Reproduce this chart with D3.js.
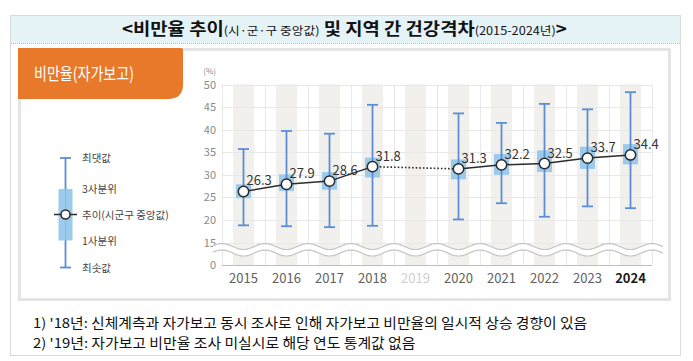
<!DOCTYPE html>
<html><head><meta charset="utf-8">
<script src="https://cdn.jsdelivr.net/npm/d3@7"></script>
<style>body{margin:0;background:#fff}svg{display:block}</style>
</head><body>
<script>
// ---- data ----
const years   = ["2015","2016","2017","2018","2019","2020","2021","2022","2023","2024"];
const medians = [26.3, 27.9, 28.6, 31.8, null, 31.3, 32.2, 32.5, 33.7, 34.4];
const q1      = [24.8, 26.4, 26.7, 29.4, null, 29.0, 30.0, 30.6, 31.3, 32.3];
const q3      = [27.9, 30.1, 30.6, 33.8, null, 33.4, 34.6, 35.4, 36.2, 36.8];
const mins    = [18.8, 18.6, 18.4, 18.7, null, 20.1, 23.7, 20.7, 23.0, 22.6];
const maxs    = [35.7, 39.7, 39.1, 45.5, null, 43.6, 41.5, 45.7, 44.5, 48.3];
const yTicks  = [15, 20, 25, 30, 35, 40, 45, 50];
const yBreakLabel = "0";
const legendLabels = ["최댓값", "3사분위", "추이(시군구 중앙값)", "1사분위", "최솟값"];
const notes = [
  "1) '18년: 신체계측과 자가보고 동시 조사로 인해 자가보고 비만율의 일시적 상승 경향이 있음",
  "2) '19년: 자가보고 비만율 조사 미실시로 해당 연도 통계값 없음"
];

const W = 693, H = 361;
const FONT = "'Noto Sans CJK KR','Noto Sans',sans-serif";
const svg = d3.select("body").append("svg").attr("width", W).attr("height", H)
  .style("font-family", FONT);

// fit a text/group horizontally into [x0, x0+w]
function fitX(sel, x0, w) {
  const bb = sel.node().getBBox();
  const s = w / bb.width;
  sel.attr("transform", `translate(${x0},0) scale(${s},1) translate(${-bb.x},0)`);
}

// ---- frame ----
svg.append("rect").attr("x", 10.5).attr("y", 15.5).attr("width", 670).attr("height", 340)
  .attr("fill", "#fff").attr("stroke", "#b5b5b5").attr("stroke-dasharray", "1,1");
svg.append("rect").attr("x", 11).attr("y", 16).attr("width", 669).attr("height", 27)
  .attr("fill", "#e5f3f7");
svg.append("line").attr("x1", 11).attr("x2", 680).attr("y1", 43.5).attr("y2", 43.5)
  .attr("stroke", "#b5b5b5").attr("stroke-dasharray", "1,1");

// title
const title = svg.append("text").attr("y", 35).attr("fill", "#111");
title.append("tspan").attr("font-size", 17).attr("font-weight", 700).text("<비만율 추이");
title.append("tspan").attr("font-size", 11.5).text("(시·군·구 중앙값)");
title.append("tspan").attr("font-size", 17).attr("font-weight", 700).text(" 및 지역 간 건강격차");
title.append("tspan").attr("font-size", 11.5).text("(2015-2024년)");
title.append("tspan").attr("font-size", 17).attr("font-weight", 700).text(">");
fitX(title, 122, 445);

// panel
svg.append("rect").attr("x", 19.5).attr("y", 49.5).attr("width", 650).attr("height", 250)
  .attr("fill", "#fff").attr("stroke", "#e4e4e4").attr("stroke-width", 3);

// orange tab
const tx0 = 18, ty0 = 48, tx1 = 183, ty1 = 99, r = 15;
svg.append("path")
  .attr("d", `M${tx0},${ty0}H${tx1 - 2}Q${tx1},${ty0} ${tx1},${ty0 + 2}V${ty1 - r}Q${tx1},${ty1} ${tx1 - r},${ty1}H${tx0}Z`)
  .attr("fill", "#e8792a");
const tabText = svg.append("text").attr("y", 80).attr("fill", "#fff").attr("font-size", 17)
  .text("비만율(자가보고)");
fitX(tabText, 34, 100);

// ---- scales ----
const x = d3.scaleBand().domain(years).range([222, 652]).paddingInner(0).paddingOuter(0);
const y = d3.scaleLinear().domain([15, 50]).range([242.5, 84.5]);
const yZero = 265;
const cx = d => x(d) + x.bandwidth() / 2;

const plot = svg.append("g");
// bands
plot.selectAll("rect.band").data(years).join("rect").attr("class", "band")
  .attr("x", d => cx(d) - 10.5).attr("width", 21)
  .attr("y", y(50)).attr("height", yZero - y(50))
  .attr("fill", "#f2f0ec");
// vertical gridlines at band boundaries
const bounds = years.map(d => x(d)).concat([x.range()[1]]);
plot.selectAll("line.vg").data(bounds).join("line").attr("class", "vg")
  .attr("x1", d => d + 0.5).attr("x2", d => d + 0.5)
  .attr("y1", y(50)).attr("y2", yZero).attr("stroke", "#e8e8e8");
// horizontal gridlines
plot.selectAll("line.hg").data(yTicks).join("line").attr("class", "hg")
  .attr("x1", 222).attr("x2", 652)
  .attr("y1", d => Math.round(y(d)) + 0.5).attr("y2", d => Math.round(y(d)) + 0.5)
  .attr("stroke", "#e8e8e8");

// y axis labels
const yAxis = d3.axisLeft(y).tickValues(yTicks).tickSize(0).tickPadding(6);
const yg = svg.append("g").attr("transform", "translate(222,0)").call(yAxis);
yg.select(".domain").remove();
yg.selectAll("text").attr("font-size", 11).attr("fill", "#8a8a8a").attr("font-family", FONT);
svg.append("text").attr("x", 216).attr("y", yZero + 4).attr("text-anchor", "end")
  .attr("font-size", 11).attr("fill", "#8a8a8a").text(yBreakLabel);
svg.append("text").attr("x", 216).attr("y", 74).attr("text-anchor", "end")
  .attr("font-size", 8).attr("fill", "#8a8a8a").text("(%)");

// baseline
svg.append("line").attr("x1", 222).attr("x2", 652).attr("y1", yZero + 0.5).attr("y2", yZero + 0.5)
  .attr("stroke", "#bdbdbd");

// axis break waves
const step = x.step();
const wavePts = (base) => d3.range(213, 663.5, 1).map(px => [px, base + 3 * Math.cos(2 * Math.PI * (px - cx(years[0])) / step)]);
const up = wavePts(246.5), lo = wavePts(253);
svg.append("path")
  .attr("d", d3.line()(up.concat(lo.slice().reverse())) + "Z")
  .attr("fill", "#fff");
[up, lo].forEach(pts => svg.append("path").attr("d", d3.line()(pts))
  .attr("fill", "none").attr("stroke", "#c4c4c4").attr("stroke-width", 1.2));

// x axis labels
const xAxis = d3.axisBottom(x).tickSize(0).tickPadding(9);
const xg = svg.append("g").attr("transform", `translate(0,${yZero})`).call(xAxis);
xg.select(".domain").remove();
xg.selectAll("text").attr("font-size", 13).attr("font-family", FONT)
  .attr("fill", d => d === "2019" ? "#d0d0d0" : (d === "2024" ? "#1a1a1a" : "#606060"))
  .attr("font-weight", d => d === "2024" ? 700 : 400);

// ---- boxes / whiskers ----
const idx = d3.range(years.length).filter(i => medians[i] != null);
const g = svg.append("g");
g.selectAll("rect.box").data(idx).join("rect").attr("class", "box")
  .attr("x", i => cx(years[i]) - 7.5).attr("width", 15)
  .attr("y", i => y(q3[i])).attr("height", i => y(q1[i]) - y(q3[i]))
  .attr("fill", "#92c5ea").attr("opacity", 0.9);
g.selectAll("line.wh").data(idx).join("line").attr("class", "wh")
  .attr("x1", i => cx(years[i])).attr("x2", i => cx(years[i]))
  .attr("y1", i => y(maxs[i])).attr("y2", i => y(mins[i]))
  .attr("stroke", "#5b8ed6").attr("stroke-width", 1.8);
[maxs, mins].forEach(arr => g.selectAll(null).data(idx).join("line")
  .attr("x1", i => cx(years[i]) - 5.5).attr("x2", i => cx(years[i]) + 5.5)
  .attr("y1", i => y(arr[i])).attr("y2", i => y(arr[i]))
  .attr("stroke", "#5b8ed6").attr("stroke-width", 1.8));

// median line (solid for consecutive, dotted across gap)
for (let k = 0; k < idx.length - 1; k++) {
  const a = idx[k], b = idx[k + 1];
  g.append("line")
    .attr("x1", cx(years[a])).attr("y1", y(medians[a]))
    .attr("x2", cx(years[b])).attr("y2", y(medians[b]))
    .attr("stroke", "#2b2b2b").attr("stroke-width", b - a > 1 ? 1.6 : 1.5)
    .attr("stroke-dasharray", b - a > 1 ? "1.6,2" : null);
}
g.selectAll("circle.med").data(idx).join("circle").attr("class", "med")
  .attr("cx", i => cx(years[i])).attr("cy", i => y(medians[i])).attr("r", 5.2)
  .attr("fill", "#fff").attr("stroke", "#2b2b2b").attr("stroke-width", 1.5);
g.selectAll("text.val").data(idx).join("text").attr("class", "val")
  .attr("x", i => cx(years[i]) + 3).attr("y", i => y(medians[i]) - 6)
  .attr("font-size", 13).attr("fill", "#333").text(i => medians[i].toFixed(1));

// ---- legend ----
const lx = 65.5;
const ly = [158, 189, 214.5, 240.5, 267.5];
const lg = svg.append("g");
lg.append("line").attr("x1", lx).attr("x2", lx).attr("y1", ly[0]).attr("y2", ly[4])
  .attr("stroke", "#5b8ed6").attr("stroke-width", 1.8);
lg.append("rect").attr("x", lx - 7).attr("width", 14).attr("y", ly[1]).attr("height", ly[3] - ly[1])
  .attr("fill", "#92c5ea").attr("opacity", 0.9);
[ly[0], ly[4]].forEach(v => lg.append("line").attr("x1", lx - 5.5).attr("x2", lx + 5.5)
  .attr("y1", v).attr("y2", v).attr("stroke", "#5b8ed6").attr("stroke-width", 1.8));
lg.append("line").attr("x1", 54).attr("x2", 77).attr("y1", ly[2]).attr("y2", ly[2])
  .attr("stroke", "#2b2b2b").attr("stroke-width", 1.5);
lg.append("circle").attr("cx", lx).attr("cy", ly[2]).attr("r", 4.5)
  .attr("fill", "#fff").attr("stroke", "#2b2b2b").attr("stroke-width", 1.5);
lg.selectAll("text").data(legendLabels).join("text")
  .attr("x", 82).attr("y", (d, i) => ly[i] + 4).attr("font-size", 10.5).attr("fill", "#444")
  .text(d => d);

// ---- notes ----
const noteW = [555, 383];
notes.forEach((t, i) => {
  const nt = svg.append("text").attr("y", 328 + i * 20).attr("font-size", 13.5).attr("fill", "#111")
    .attr("xml:space", "preserve").style("white-space", "pre").text(t);
  fitX(nt, 33, noteW[i]);
});
</script>
</body></html>
